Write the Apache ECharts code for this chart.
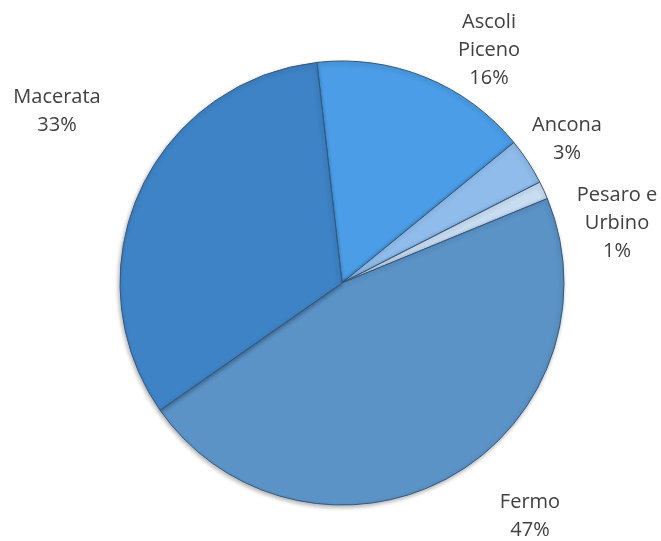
<!DOCTYPE html>
<html>
<head>
<meta charset="utf-8">
<script src="https://cdn.jsdelivr.net/npm/echarts@6/dist/echarts.min.js"></script>
<style>
  html, body { margin: 0; padding: 0; background: #fff; }
  #pie-chart { width: 661px; height: 541px; }
</style>
</head>
<body>
<div id="pie-chart"></div>
<script>
// slice names and shares (percent), clockwise from top
const provinces = ['Ascoli\nPiceno', 'Ancona', 'Pesaro e\nUrbino', 'Fermo', 'Macerata']
const shares = [15.9, 3.4, 1.3, 46.5, 32.9]

// slice fill colours
const colors = ['#4a9de6', '#8fbceb', '#c8dcf2', '#5b93c7', '#3e83c6']

// where Excel put each label (centre of the text block)
const labelSpots = [[489, 50], [567, 139], [617, 223], [530, 516], [57, 111]]

const chart = echarts.init(document.getElementById('pie-chart'))

const total = shares.reduce((a, b) => a + b, 0)

const options = {
    animation: false,
    series: [
        {
            type: 'pie',
            center: [342, 283],
            radius: 222,
            startAngle: 96.5,
            clockwise: true,
            data: provinces.map((name, i) => ({
                name: name,
                value: shares[i],
                itemStyle: { color: colors[i] }
            })),
            itemStyle: {
                borderColor: '#34577c',
                borderWidth: 1,
                shadowColor: 'rgba(0,0,0,0.3)',
                shadowBlur: 4,
                shadowOffsetX: -1,
                shadowOffsetY: 2
            },
            label: {
                show: true,
                position: 'outside',
                color: '#404040',
                fontFamily: '"Open Sans", "Noto Sans", sans-serif',
                fontSize: 20,
                lineHeight: 28,
                align: 'center',
                overflow: 'none',
                formatter: p => p.name + '\n' + Math.round(p.value / total * 100) + '%'
            },
            labelLine: { show: false },
            labelLayout: params => ({
                x: labelSpots[params.dataIndex][0],
                y: labelSpots[params.dataIndex][1],
                align: 'center',
                verticalAlign: 'middle',
                width: 120
            })
        }
    ]
}

chart.setOption(options)
</script>
</body>
</html>
